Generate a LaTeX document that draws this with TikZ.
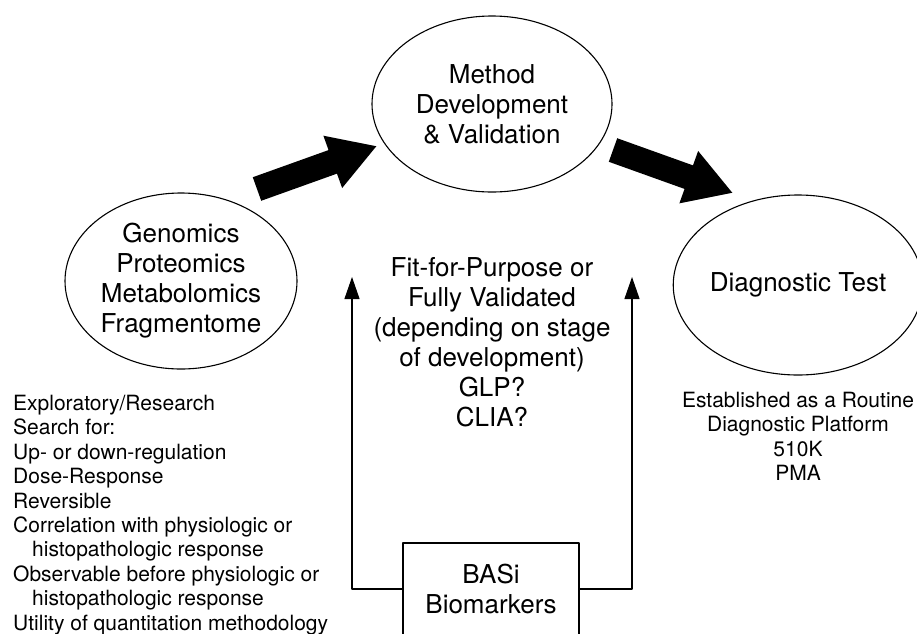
\documentclass[tikz,border=0pt]{standalone}
\usepackage{fontspec}
\setmainfont{TeX Gyre Heros}
\usetikzlibrary{shapes.geometric,arrows.meta}

\begin{document}
\begin{tikzpicture}[x=1pt,y=-1pt,line join=round,
  oval/.style={draw,ellipse,line width=1.1pt,inner sep=0pt,align=center,font=\fontsize{26}{30}\selectfont},
  bigarrow/.style={line width=25pt,-{Triangle[length=47pt,width=52pt]}},
  thinarrow/.style={line width=1.1pt,-{Triangle[length=22pt,width=15pt]}},
  note/.style={inner sep=0pt,font=\fontsize{21}{24.4}\selectfont}]
\useasboundingbox (0,0) rectangle (917,633);
\clip (0,0) rectangle (917,633);

%Ovals
\node[oval,minimum width=232pt,minimum height=176pt] (gen) at (181,281) {Genomics\\Proteomics\\Metabolomics\\Fragmentome};
\node[oval,minimum width=240pt,minimum height=176pt] (meth) at (492,104) {Method\\Development\\\& Validation};
\node[oval,minimum width=232pt,minimum height=180pt] (diag) at (798,285) {Diagnostic Test};

%big arrows
\coordinate (t1) at (257,189);
\coordinate (p1) at (377,146);
\coordinate (t2) at (613,150);
\coordinate (p2) at (733,193);
\draw[bigarrow] (t1) -- (p1);
\draw[bigarrow] (t2) -- (p2);

%middle
\node[inner sep=0pt,anchor=north,align=center,font=\fontsize{26}{30}\selectfont] (fit) at (492,257) {Fit-for-Purpose or\\Fully Validated\\(depending on stage\\of development)\\GLP?\\CLIA?};

%Box
\node[draw,line width=1.3pt,minimum width=176pt,minimum height=92pt,align=center,font=\fontsize{26}{30}\selectfont] (basi) at (491,589) {BASi\\Biomarkers};
\coordinate (l1) at (352,277);
\coordinate (l2) at (632,277);
\draw[thinarrow] (basi.west) -| (l1);
\draw[thinarrow] (basi.east) -| (l2);

%notes
\node[note,anchor=north west,align=left] (explo) at (13,395) {Exploratory/Research\\Search for:\\Up- or down-regulation\\Dose-Response\\Reversible\\Correlation with physiologic or\\\hspace*{19pt}histopathologic response\\Observable before physiologic or\\\hspace*{19pt}histopathologic response\\Utility of quantitation methodology};
\node[note,anchor=north,align=center] (estab) at (798,392) {Established as a Routine\\Diagnostic Platform\\510K\\PMA};

\end{tikzpicture}
\end{document}
